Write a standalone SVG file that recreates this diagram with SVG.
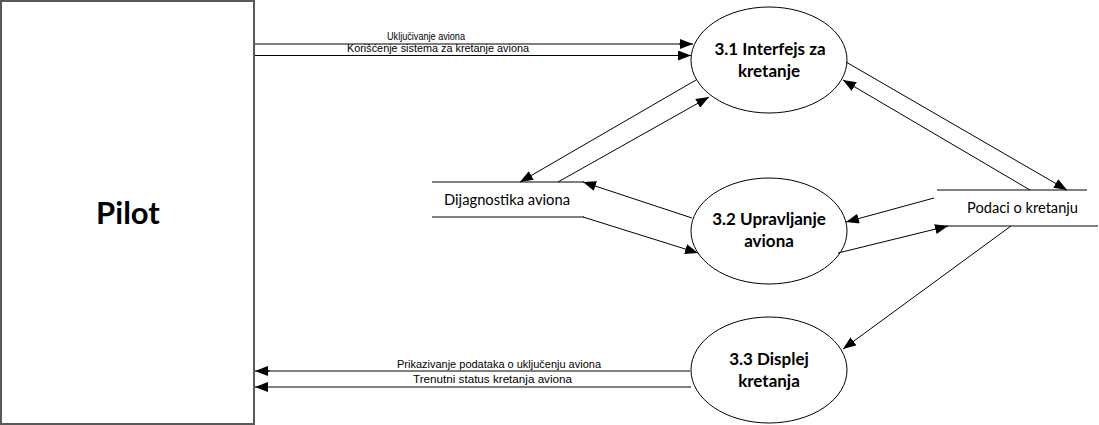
<svg xmlns="http://www.w3.org/2000/svg" width="1099" height="425" viewBox="0 0 1099 425">
<style>
.node{fill:#fff;stroke:#000;stroke-width:1}
.pilot{fill:#fff;stroke:#595959;stroke-width:2}
.title{font-family:Lato,"Liberation Sans",sans-serif;font-weight:bold;font-size:17px;fill:#000;text-anchor:middle}
.big{font-family:Lato,"Liberation Sans",sans-serif;font-weight:bold;font-size:31px;fill:#000;text-anchor:middle}
.store{font-family:Lato,"Liberation Sans",sans-serif;font-size:14.5px;fill:#000}
.lbl{font-family:"Liberation Sans",sans-serif;font-size:10.5px;fill:#000}
.c{stroke:#000;stroke-width:1;fill:none;marker-end:url(#ah)}
.cg{stroke:#7f7f7f;stroke-width:2;fill:none}
.sl{stroke:#000;stroke-width:1}
</style>
<defs>
<marker id="ah" markerUnits="userSpaceOnUse" markerWidth="14" markerHeight="10" refX="13" refY="5" orient="auto">
<path d="M0,0 L13,5 L0,10 Z" fill="#000"/>
</marker>
</defs>
<g id="pilot">
<rect class="pilot" x="1" y="1" width="253" height="423"/>
<text class="big" x="128" y="224">Pilot</text>
</g>
<g id="p31">
<ellipse class="node" cx="769" cy="60" rx="78" ry="53"/>
<text class="title" x="770" y="55">3.1 Interfejs za</text>
<text class="title" x="769" y="77">kretanje</text>
</g>
<g id="p32">
<ellipse class="node" cx="769" cy="231" rx="78" ry="53"/>
<text class="title" x="769" y="225">3.2 Upravljanje</text>
<text class="title" x="769" y="247">aviona</text>
</g>
<g id="p33">
<ellipse class="node" cx="769" cy="370" rx="78" ry="53"/>
<text class="title" x="769" y="365">3.3 Displej</text>
<text class="title" x="769" y="387">kretanja</text>
</g>
<g id="ds-dijagnostika">
<line class="sl" x1="432" y1="182" x2="584" y2="182"/>
<line class="sl" x1="432" y1="217" x2="584" y2="217"/>
<text class="store" x="444" y="205" textLength="126" lengthAdjust="spacingAndGlyphs">Dijagnostika aviona</text>
</g>
<g id="ds-podaci">
<line class="sl" x1="937" y1="190" x2="1087" y2="190"/>
<line class="sl" x1="937" y1="226" x2="1098" y2="226"/>
<text class="store" x="967" y="213" textLength="111" lengthAdjust="spacingAndGlyphs">Podaci o kretanju</text>
</g>
<g id="connectors">
<path class="cg" d="M255,44 L680,44"/>
<path class="c" d="M679,44 L693,44"/>
<path class="c" d="M255,55.5 L691,55.5"/>
<text class="lbl" x="387" y="40" textLength="78" lengthAdjust="spacingAndGlyphs">Uključivanje aviona</text>
<text class="lbl" x="347" y="52" textLength="182" lengthAdjust="spacingAndGlyphs">Korišćenje sistema za kretanje aviona</text>
<path class="cg" d="M690,371 L268,371"/>
<path class="c" d="M270,371 L255,371"/>
<path class="c" d="M691,387 L255,387"/>
<text class="lbl" x="397" y="368" textLength="204" lengthAdjust="spacingAndGlyphs">Prikazivanje podataka o uključenju aviona</text>
<text class="lbl" x="413" y="383" textLength="159" lengthAdjust="spacingAndGlyphs">Trenutni status kretanja aviona</text>
<path class="c" d="M696,80 L520,182"/>
<path class="c" d="M558,182 L709,97"/>
<path class="c" d="M692,218 L583,182"/>
<path class="c" d="M583,217 L698,253"/>
<path class="c" d="M846,62 L1067,190"/>
<path class="c" d="M1030,190 L843,80"/>
<path class="c" d="M934,198 L846,222"/>
<path class="c" d="M838,253 L948,226"/>
<path class="c" d="M1011,226 L843,349"/>
</g>
</svg>
